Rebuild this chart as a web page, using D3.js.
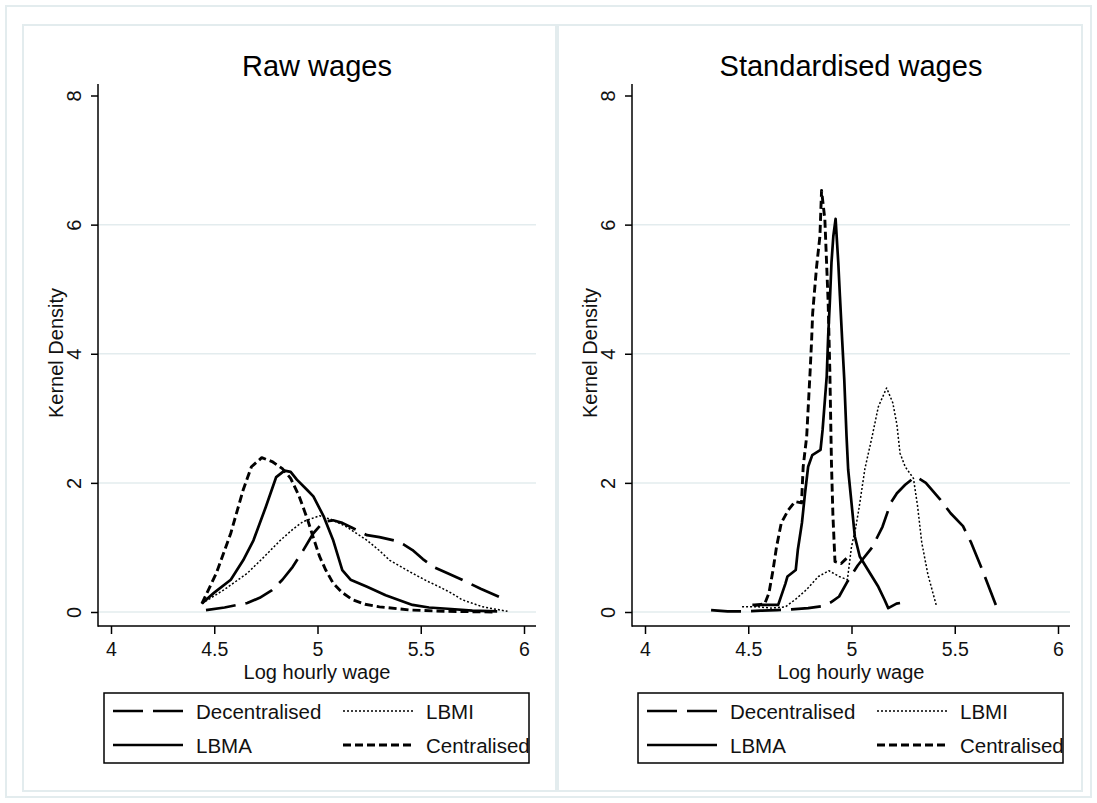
<!DOCTYPE html>
<html>
<head>
<meta charset="utf-8">
<script src="https://cdn.jsdelivr.net/npm/d3@7"></script>
<style>
  body { margin: 0; background: #fff; }
  svg { display: block; font-family: "Liberation Sans", Arial, sans-serif; }
</style>
</head>
<body>
<div id="chart"></div>
<script>
const panelTitles = ["Raw wages", "Standardised wages"];
const seriesNames = ["Decentralised", "LBMI", "LBMA", "Centralised"];
const xTicks = [4, 4.5, 5, 5.5, 6];
const yTicks = [0, 2, 4, 6, 8];
const gridTicks = [0, 2, 4, 6];

// Raw wages: [log hourly wage, kernel density]
const rawDecentralised = [
  [4.46, 0.03], [4.55, 0.07], [4.66, 0.14], [4.72, 0.22], [4.78, 0.34], [4.83, 0.5],
  [4.88, 0.7], [4.93, 0.95], [4.98, 1.22], [5.03, 1.4], [5.075, 1.42], [5.12, 1.38],
  [5.17, 1.3], [5.24, 1.19], [5.3, 1.16], [5.37, 1.11], [5.42, 1.04], [5.46, 0.96],
  [5.51, 0.82], [5.56, 0.7], [5.63, 0.6], [5.7, 0.5], [5.79, 0.36], [5.89, 0.22]
];
const rawLBMI = [
  [4.44, 0.13], [4.55, 0.35], [4.66, 0.6], [4.74, 0.85], [4.82, 1.11], [4.88, 1.28],
  [4.93, 1.4], [5.01, 1.49], [5.07, 1.43], [5.14, 1.32], [5.24, 1.11], [5.3, 0.95],
  [5.35, 0.8], [5.46, 0.6], [5.53, 0.48], [5.59, 0.39], [5.65, 0.29], [5.7, 0.19],
  [5.8, 0.08], [5.92, 0.01]
];
const rawLBMA = [
  [4.44, 0.13], [4.5, 0.3], [4.58, 0.5], [4.64, 0.8], [4.69, 1.11], [4.75, 1.63],
  [4.8, 2.09], [4.84, 2.19], [4.87, 2.17], [4.9, 2.05], [4.95, 1.89], [4.98, 1.79],
  [5.03, 1.48], [5.075, 1.12], [5.12, 0.65], [5.16, 0.5], [5.24, 0.39], [5.33, 0.26],
  [5.46, 0.11], [5.54, 0.07], [5.63, 0.05], [5.75, 0.02], [5.87, 0.01]
];
const rawCentralised = [
  [4.44, 0.13], [4.51, 0.6], [4.58, 1.22], [4.64, 1.89], [4.68, 2.25], [4.73, 2.39],
  [4.78, 2.33], [4.83, 2.22], [4.87, 2.07], [4.91, 1.8], [4.95, 1.45], [4.98, 1.15],
  [5.01, 0.86], [5.04, 0.65], [5.075, 0.45], [5.12, 0.3], [5.17, 0.19], [5.23, 0.12],
  [5.3, 0.08], [5.45, 0.03], [5.63, 0.01], [5.85, 0.0]
];

// Standardised wages
const stdDecentralised = [
  [4.32, 0.03], [4.4, 0.01], [4.48, 0.01], [4.56, 0.02], [4.64, 0.03], [4.71, 0.04],
  [4.79, 0.06], [4.86, 0.09], [4.9, 0.15], [4.94, 0.24], [4.98, 0.47], [5.03, 0.72],
  [5.1, 1.0], [5.15, 1.32], [5.19, 1.69], [5.22, 1.84], [5.26, 1.97], [5.31, 2.1],
  [5.36, 2.0], [5.43, 1.74], [5.48, 1.53], [5.54, 1.33], [5.58, 1.07], [5.63, 0.68],
  [5.7, 0.1]
];
const stdLBMI = [
  [4.47, 0.08], [4.55, 0.08], [4.61, 0.06], [4.68, 0.08], [4.73, 0.2], [4.78, 0.34],
  [4.84, 0.55], [4.89, 0.64], [4.94, 0.55], [4.98, 0.5], [5.0, 1.01], [5.02, 1.3],
  [5.035, 1.58], [5.065, 2.22], [5.1, 2.72], [5.13, 3.18], [5.17, 3.47], [5.2, 3.24],
  [5.22, 2.9], [5.235, 2.46], [5.26, 2.25], [5.3, 2.07], [5.32, 1.64], [5.34, 1.08],
  [5.37, 0.58], [5.41, 0.11]
];
const stdLBMA = [
  [4.52, 0.11], [4.58, 0.11], [4.645, 0.11], [4.68, 0.44], [4.69, 0.55], [4.73, 0.65],
  [4.74, 0.96], [4.76, 1.38], [4.775, 1.84], [4.79, 2.25], [4.81, 2.43], [4.85, 2.51],
  [4.86, 2.82], [4.88, 3.65], [4.887, 4.27], [4.895, 4.79], [4.903, 5.41], [4.912, 5.82],
  [4.923, 6.09], [4.936, 5.41], [4.944, 4.89], [4.955, 4.2], [4.965, 3.6], [4.976, 2.72],
  [4.984, 2.2], [5.0, 1.69], [5.016, 1.17], [5.04, 0.86], [5.08, 0.65], [5.13, 0.39],
  [5.16, 0.19], [5.178, 0.06], [5.218, 0.13], [5.235, 0.14]
];
const stdCentralised = [
  [4.53, 0.1], [4.58, 0.13], [4.6, 0.29], [4.62, 0.65], [4.637, 1.01], [4.66, 1.38],
  [4.694, 1.58], [4.726, 1.71], [4.758, 1.69], [4.766, 2.25], [4.783, 2.72], [4.8, 3.75],
  [4.807, 4.22], [4.812, 4.63], [4.82, 4.94], [4.831, 5.35], [4.847, 5.82], [4.855, 6.53],
  [4.871, 6.08], [4.887, 4.79], [4.895, 3.75], [4.903, 2.3], [4.91, 1.5], [4.92, 0.78],
  [4.95, 0.75], [4.985, 0.86]
];

const rawSeries = [rawDecentralised, rawLBMI, rawLBMA, rawCentralised];
const stdSeries = [stdDecentralised, stdLBMI, stdLBMA, stdCentralised];

// line look per series (same order as seriesNames)
const lineStyles = [
  { width: 2.7, dash: "30,10" },
  { width: 1.5, dash: "2,2" },
  { width: 2.7, dash: null },
  { width: 2.9, dash: "8,4" }
];

const W = 1097, H = 803;
const light = "#e3ecee";

const svg = d3.select("#chart").append("svg")
  .attr("width", W)
  .attr("height", H);

svg.append("rect").attr("width", W).attr("height", H).attr("fill", "#fff");

// outer frame
svg.append("rect")
  .attr("x", 6).attr("y", 6).attr("width", 1085).attr("height", 791)
  .attr("fill", "none").attr("stroke", light).attr("stroke-width", 2);

function drawPanel(title, series, box, plotLeft) {
  const plotRight = plotLeft + 438, plotTop = 84, plotBottom = 626;

  svg.append("rect")
    .attr("x", box[0]).attr("y", 25).attr("width", box[1] - box[0]).attr("height", 766)
    .attr("fill", "none").attr("stroke", light).attr("stroke-width", 2);

  const x = d3.scaleLinear().domain([4, 6]).range([plotLeft + 13, plotLeft + 426]);
  const y = d3.scaleLinear().domain([0, 8]).range([612, 95.5]);

  const g = svg.append("g");

  // grid
  g.selectAll(".grid")
    .data(gridTicks)
    .enter()
    .append("line")
    .attr("x1", plotLeft).attr("x2", plotRight)
    .attr("y1", d => y(d)).attr("y2", d => y(d))
    .attr("stroke", light).attr("stroke-width", 1.5);

  // curves
  const line = d3.line().x(d => x(d[0])).y(d => y(d[1]));
  series.forEach((s, i) => {
    g.append("path")
      .datum(s)
      .attr("d", line)
      .attr("fill", "none")
      .attr("stroke", "#000")
      .attr("stroke-width", lineStyles[i].width)
      .attr("stroke-dasharray", lineStyles[i].dash)
      .attr("stroke-linejoin", "round");
  });

  // axes
  const yAxis = g.append("g")
    .attr("transform", `translate(${plotLeft},0)`)
    .call(d3.axisLeft(y).tickValues(yTicks).tickSize(7).tickSizeOuter(0));
  yAxis.select(".domain").remove();
  yAxis.selectAll("line").attr("stroke-width", 1.5);
  yAxis.selectAll("text")
    .attr("x", 0).attr("dy", 0)
    .attr("text-anchor", "middle")
    .attr("transform", "translate(-17,0) rotate(-90)")
    .attr("font-size", 20).attr("fill", "#111")
    .style("font-family", "Liberation Sans, Arial, sans-serif");

  const xAxis = g.append("g")
    .attr("transform", `translate(0,${plotBottom})`)
    .call(d3.axisBottom(x).tickValues(xTicks).tickFormat(d3.format("~g"))
      .tickSize(8).tickPadding(8.5).tickSizeOuter(0));
  xAxis.select(".domain").remove();
  xAxis.selectAll("line").attr("stroke-width", 1.5);
  xAxis.selectAll("text")
    .attr("font-size", 19.5).attr("fill", "#111")
    .style("font-family", "Liberation Sans, Arial, sans-serif");

  g.append("line")
    .attr("x1", plotLeft).attr("x2", plotLeft)
    .attr("y1", plotTop).attr("y2", plotBottom + 0.75)
    .attr("stroke", "#000").attr("stroke-width", 1.5);
  g.append("line")
    .attr("x1", plotLeft).attr("x2", plotRight)
    .attr("y1", plotBottom).attr("y2", plotBottom)
    .attr("stroke", "#000").attr("stroke-width", 1.5);

  // titles
  const mid = (plotLeft + plotRight) / 2;
  g.append("text")
    .attr("x", mid).attr("y", 76)
    .attr("text-anchor", "middle")
    .attr("font-size", 29).attr("fill", "#000")
    .text(title);

  g.append("text")
    .attr("x", mid).attr("y", 679)
    .attr("text-anchor", "middle")
    .attr("font-size", 20).attr("fill", "#111")
    .text("Log hourly wage");

  g.append("text")
    .attr("transform", `translate(${plotLeft - 35},353) rotate(-90)`)
    .attr("text-anchor", "middle")
    .attr("font-size", 20).attr("fill", "#111")
    .text("Kernel Density");

  // legend
  const lx = plotLeft + 6;
  const legend = g.append("g").attr("transform", `translate(${lx},693)`);
  legend.append("rect")
    .attr("width", 425).attr("height", 70)
    .attr("fill", "#fff").attr("stroke", "#000").attr("stroke-width", 1.5);

  const cols = [9, 239];
  const rows = [18, 52];
  seriesNames.forEach((name, i) => {
    const cx = cols[i % 2], cy = rows[Math.floor(i / 2)];
    legend.append("line")
      .attr("x1", cx).attr("x2", cx + 70)
      .attr("y1", cy).attr("y2", cy)
      .attr("stroke", "#000")
      .attr("stroke-width", lineStyles[i].width)
      .attr("stroke-dasharray", lineStyles[i].dash);
    legend.append("text")
      .attr("x", cx + 83).attr("y", cy + 8)
      .attr("font-size", 20.5).attr("fill", "#111")
      .text(name);
  });
}

drawPanel(panelTitles[0], rawSeries, [23, 556], 98);
drawPanel(panelTitles[1], stdSeries, [558, 1082], 632);
</script>
</body>
</html>
